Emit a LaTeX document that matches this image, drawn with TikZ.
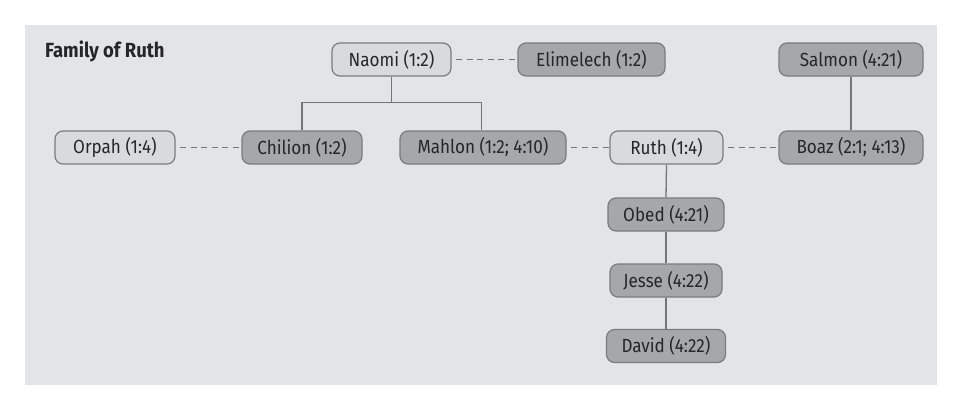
\documentclass[tikz,border=0pt]{standalone}
\usepackage{fontspec}
\setmainfont{Fira Sans}[FakeStretch=0.9]
\usetikzlibrary{positioning}
\definecolor{bgc}{HTML}{E3E4E6}
\definecolor{lightc}{HTML}{D9DADC}
\definecolor{darkc}{HTML}{A6A7A9}
\definecolor{edgec}{HTML}{7A7B7D}
\definecolor{txtc}{HTML}{262626}
\definecolor{linec}{HTML}{747577}
\tikzset{
  person/.style={draw=edgec, line width=1.2pt, rounded corners=8pt, minimum height=33pt,
    inner sep=0pt, text=txtc, font=\fontsize{19}{22}\selectfont},
  lightbox/.style={person, fill=lightc},
  darkbox/.style={person, fill=darkc},
  spouse/.style={draw=linec, line width=1.3pt, dash pattern=on 6pt off 4.5pt, dash phase=6pt},
  descent/.style={draw=linec, line width=1.3pt},
}
\begin{document}
\begin{tikzpicture}[x=1pt,y=-1pt]
\useasboundingbox (0,0) rectangle (963,412);
\fill[bgc] (25,25) rectangle (937,385);
\node[anchor=base west, inner sep=0pt, text=txtc, font=\fontsize{20.5}{24}\selectfont\bfseries] (title) at (45,57) {Family of Ruth};
\node[lightbox, minimum width=119pt] (naomi) at (391.5,59.5) {Naomi (1:2)};
\node[darkbox, minimum width=147pt] (elim) at (591.5,59.5) {Elimelech (1:2)};
\node[darkbox, minimum width=144pt] (salmon) at (851,59.5) {Salmon (4:21)};
\node[lightbox, minimum width=120pt] (orpah) at (115,147.5) {Orpah (1:4)};
\node[darkbox, minimum width=120pt] (chilion) at (302,147.5) {Chilion (1:2)};
\node[darkbox, minimum width=166pt] (mahlon) at (483,147.5) {Mahlon (1:2; 4:10)};
\node[lightbox, minimum width=113pt] (ruth) at (666.5,147.5) {Ruth (1:4)};
\node[darkbox, minimum width=144pt] (boaz) at (851,147.5) {Boaz (2:1; 4:13)};
\node[darkbox, minimum width=116pt] (obed) at (666,214.5) {Obed (4:21)};
\node[darkbox, minimum width=112pt] (jesse) at (666,280.5) {Jesse (4:22)};
\node[darkbox, minimum width=119pt] (david) at (666,346) {David (4:22)};
\coordinate (j) at (391.5,102.5);
\draw[spouse] (naomi.east) -- (elim.west);
\draw[spouse] (orpah.east) -- (chilion.west);
\draw[spouse] (mahlon.east) -- (ruth.west);
\draw[spouse] (ruth.east) -- (boaz.west);
\draw[descent] (naomi.south) -- (j);
\draw[descent] (chilion.north) |- (j) -| ([xshift=-1.5pt]mahlon.north);
\draw[descent] (salmon.south) -- (boaz.north);
\draw[descent] (ruth.south) -- (obed.north);
\draw[descent] (obed.south) -- (jesse.north);
\draw[descent] (jesse.south) -- (david.north);
\end{tikzpicture}
\end{document}
